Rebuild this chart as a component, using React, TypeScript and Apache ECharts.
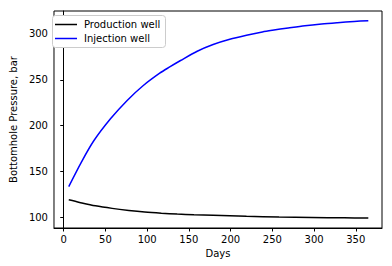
import React, { useEffect, useRef } from "react";
import * as echarts from "echarts";

const injectionDays = [6, 21, 36, 56, 76, 95, 115, 127, 140, 160, 179, 199, 219, 238, 250, 269, 289, 309, 328, 348, 365];
const injectionPressure = [133.5, 160, 183.5, 207.5, 227.5, 243.5, 257.2, 264, 271, 281.1, 288.4, 294.1, 298.5, 302.2, 304, 306.5, 309, 310.9, 312.3, 313.6, 314.5];
const productionDays = [6, 19, 38, 58, 78, 97, 117, 136, 156, 179, 219, 258, 297, 336, 365];
const productionPressure = [119.1, 116.3, 112.6, 109.8, 107.6, 105.9, 104.6, 103.6, 102.9, 102.3, 101.1, 100.3, 99.9, 99.5, 99.2];
const xTicks = [0, 50, 100, 150, 200, 250, 300, 350];
const yTicks = [100, 150, 200, 250, 300];
const seriesNames = ["Production well", "Injection well"];
const seriesColors = ["#000000", "#0000ff"];

const FONT = "DejaVu Sans";

export default function App() {
  const ref = useRef<HTMLDivElement>(null);
  useEffect(() => {
    if (!ref.current) return;
    const chart = echarts.init(ref.current, null, { renderer: "svg" });
    const axisCommon = {
      axisLine: { show: true, lineStyle: { color: "#000", width: 1 } },
      axisTick: { show: true, inside: false, length: 3.5, lineStyle: { color: "#000", width: 1 } },
      splitLine: { show: false },
      nameTextStyle: { fontFamily: FONT, fontSize: 10, color: "#000" },
    };
    const legendElements: any[] = [
      {
        type: "rect",
        shape: { x: 52.5, y: 15.5, width: 113, height: 32, r: 3 },
        style: { fill: "#fff", stroke: "#cccccc", lineWidth: 1 },
        z: 100,
      },
    ];
    seriesNames.forEach((name, i) => {
      const cy = 24.5 + i * 14;
      legendElements.push({
        type: "line",
        shape: { x1: 55, y1: cy, x2: 77, y2: cy },
        style: { stroke: seriesColors[i], lineWidth: 1.5 },
        z: 101,
      });
      legendElements.push({
        type: "text",
        x: 84,
        y: cy,
        z: 101,
        style: {
          text: name,
          fontFamily: FONT,
          fontSize: 10,
          fill: "#000",
          verticalAlign: "middle",
          align: "left",
        },
      });
    });
    chart.setOption({
      animation: false,
      backgroundColor: "#fff",
      grid: {
        left: 47,
        top: 11,
        width: 335,
        height: 217,
        show: true,
        borderColor: "#000",
        borderWidth: 1,
        backgroundColor: "transparent",
      },
      legend: { show: false },
      graphic: legendElements,
      xAxis: {
        type: "value",
        min: -11.7,
        max: 381.4,
        name: "Days",
        nameLocation: "middle",
        nameGap: 20,
        ...axisCommon,
        axisTick: { ...axisCommon.axisTick, customValues: xTicks },
        axisLabel: { customValues: xTicks, fontFamily: FONT, fontSize: 10, color: "#000", margin: 6 },
      },
      yAxis: {
        type: "value",
        min: 88.4,
        max: 325,
        name: "Bottomhole Pressure, bar",
        nameLocation: "middle",
        nameGap: 34,
        ...axisCommon,
        axisTick: { ...axisCommon.axisTick, customValues: yTicks },
        axisLabel: { customValues: yTicks, fontFamily: FONT, fontSize: 10, color: "#000", margin: 6 },
      },
      series: seriesNames.map((name, i) => {
        const days = i === 0 ? productionDays : injectionDays;
        const vals = i === 0 ? productionPressure : injectionPressure;
        return {
          name,
          type: "line",
          data: days.map((d, k) => [d, vals[k]]),
          showSymbol: false,
          smooth: 0.3,
          color: seriesColors[i],
          lineStyle: { color: seriesColors[i], width: 1.5 },
        };
      }),
    });
    return () => chart.dispose();
  }, []);
  return (
    <div
      ref={ref}
      style={{ position: "fixed", left: 0, top: 0, width: 392, height: 266 }}
    />
  );
}
